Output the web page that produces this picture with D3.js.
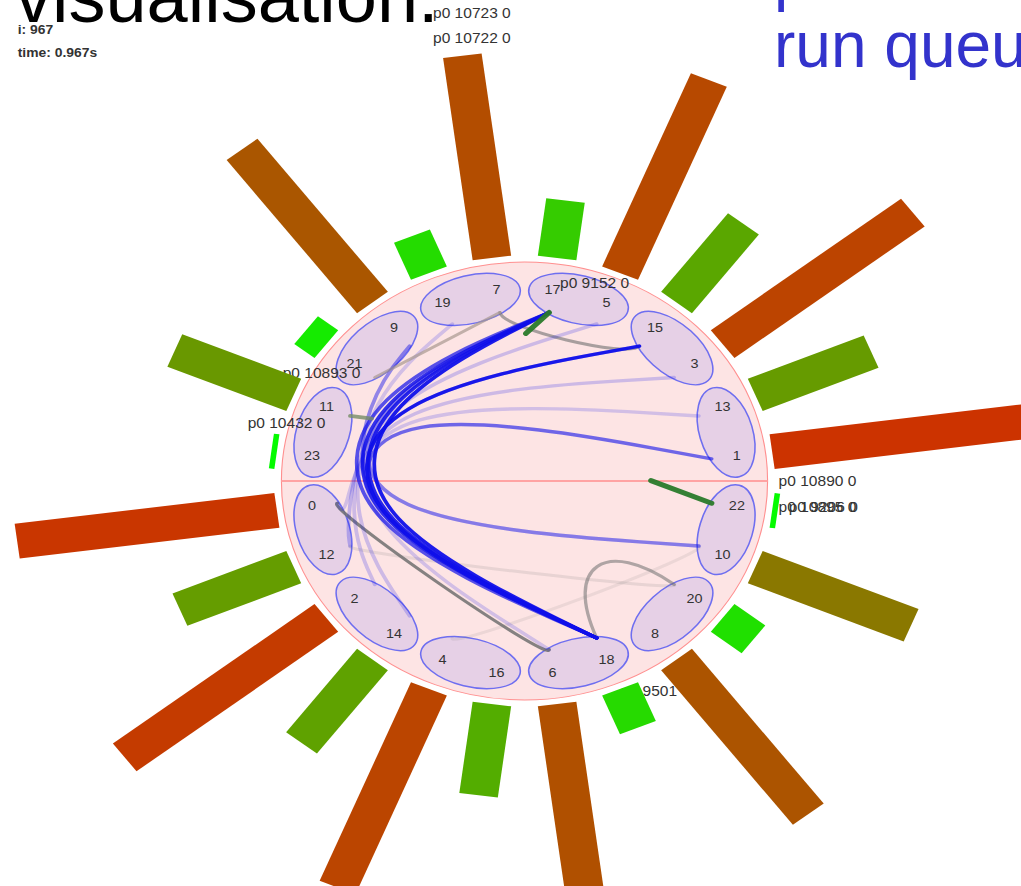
<!DOCTYPE html>
<html>
<head>
<meta charset="utf-8">
<script src="https://cdn.jsdelivr.net/npm/d3@7"></script>
<style>
  html, body { margin: 0; padding: 0; background: #ffffff; overflow: hidden; }
  svg { display: block; }
</style>
</head>
<body>
<svg id="chart" width="1021" height="886"></svg>
<script>
// ---- data ---------------------------------------------------------------
// CPUs in clockwise order, starting just right of 12 o'clock
const cpuOrder = [17, 5, 15, 3, 13, 1, 22, 10, 20, 8, 18, 6, 16, 4, 14, 2, 12, 0, 23, 11, 21, 9, 19, 7];
// hyperthread sibling pairs (one ellipse per physical core)
const cores = [[17, 5], [15, 3], [13, 1], [22, 10], [20, 8], [18, 6], [16, 4], [14, 2], [12, 0], [23, 11], [21, 9], [19, 7]];
// run-queue load per CPU, indexed by CPU id
const runQueueLoad = [236, 240, 229, 216, 215, 209, 200, 204, 195, 193, 152, 116, 111, 113, 105, 99, 92, 58, 42, 40, 35, 23, 5, 5];
// cross-socket migrations: [from cpu, to cpu, recency]
const migrations = [
  [18, 17, 0.95], [18, 17, 0.9], [18, 17, 0.85], [18, 17, 0.7],
  [15, 18, 0.95], [1, 18, 0.6], [9, 18, 0.45],
  [10, 17, 0.3], [10, 15, 0.28], [17, 12, 0.25], [3, 14, 0.2],
  [5, 2, 0.2], [19, 6, 0.18], [13, 0, 0.18]
];
// same-socket wakeups: [from cpu, to cpu, recency]
const wakeups = [[0, 6, 0.85], [7, 15, 0.6], [18, 20, 0.55], [12, 20, 0.15], [4, 10, 0.12]];
// processes in flight: [pid, from cpu, to cpu, progress, age]
const inFlight = [[10893, 21, 7, 1.0, 1.0], [10432, 11, 1, 0.06, 0.6], [9152, 17, 0, 0.11, 0], [10890, 22, 21, 0.18, 0]];
// process tags and where each tag currently sits: [angle deg, radius]
const procTags = ["p0 10723 0", "p0 10722 0", "p0 9152 0", "p0 10893 0", "p0 10432 0", "p0 10890 0", "p0 10895 0", "p0 9206 0", "p0 9501 0"];
const procTagSpots = [[349.9, 470], [349.35, 446], [9.4, 196], [295.3, 241], [282, 255], [91.25, 229], [97.7, 231], [97.4, 240], [158.0, 232]];
const frameIndex = 967;
const frameTime = 0.967;

// ---- layout -------------------------------------------------------------
const cx = 524.5, cy = 481, stretchX = 1.11;
const R = 219, coreR = 188, coreRx = 46, coreRy = 24;
const labelR = 193, linkR = 170, barR0 = 225, barW = 35;
const socketHub = { 1: [301, 165], 0: [256, 166] };   // odd CPUs top, even CPUs bottom

const angle = d3.scalePoint().domain(cpuOrder).range([7.5, 352.5]);
const rad = d => d * Math.PI / 180;
const polar = (a, r) => [r * Math.sin(rad(a)), -r * Math.cos(rad(a))];
const barLen = d3.scaleLinear().domain([0, 240]).range([0, 240]);
const barColor = d3.scaleLinear().domain([0, 150, 205, 240])
  .range(["#00ff00", "#887a00", "#b44c00", "#cc3300"]).clamp(true);
const wakeBend = d3.scaleLinear().domain([30, 45, 90]).range([92, 154, 185]).clamp(true);
const trailColor = d3.scaleLinear().domain([0, 1]).range(["#2a7a2a", "#a89890"]);
const trailWidth = d3.scaleLinear().domain([0, 1]).range([5, 3]);
const trailAlpha = d3.scaleLinear().domain([0, 1]).range([0.95, 0.7]);

const svg = d3.select("#chart");
const font = "'Liberation Sans', Arial, Helvetica, sans-serif";

// slide text
svg.append("text").attr("x", 15).attr("y", 22)
  .attr("font-family", font).attr("font-size", 74).attr("fill", "#000")
  .text("visualisation.");
svg.append("text").attr("x", 774).attr("y", -1)
  .attr("font-family", font).attr("font-size", 64).attr("fill", "#3333cc")
  .text("per CPU");
svg.append("text").attr("x", 774).attr("y", 67)
  .attr("font-family", font).attr("font-size", 64).attr("fill", "#3333cc")
  .text("run queue");

// visualisation frame
const frame = svg.append("g").attr("transform", `scale(${stretchX},1)`);
frame.append("text").attr("x", 16).attr("y", 34)
  .attr("font-family", font).attr("font-size", 12.5).attr("font-weight", "bold").attr("fill", "#333")
  .text(`i: ${frameIndex}`);
frame.append("text").attr("x", 16).attr("y", 57)
  .attr("font-family", font).attr("font-size", 12.5).attr("font-weight", "bold").attr("fill", "#333")
  .text(`time: ${frameTime}s`);

const g = svg.append("g").attr("transform", `translate(${cx},${cy}) scale(${stretchX},1)`);

// machine disc and socket divider
g.append("circle").attr("r", R).attr("fill", "#fde4e4").attr("stroke", "#ff8f8f").attr("stroke-width", 1);
g.append("line").attr("x1", -R).attr("x2", R).attr("y1", 0).attr("y2", 0)
  .attr("stroke", "#ffa3a3").attr("stroke-width", 2);

// cores
const coreAngle = c => (angle(c[0]) + angle(c[1])) / 2;
g.append("g").selectAll("ellipse").data(cores).join("ellipse")
  .attr("transform", c => { const [x, y] = polar(coreAngle(c), coreR); return `translate(${x},${y}) rotate(${coreAngle(c)})`; })
  .attr("rx", coreRx).attr("ry", coreRy)
  .attr("fill", "#e6d0e6").attr("stroke", "#6e6ef0").attr("stroke-width", 1.4);

// same-socket wakeups: cubic curves pulled along each CPU's radius
const gapOf = (a, b) => { const d = Math.abs(angle(a) - angle(b)); return Math.min(d, 360 - d); };
g.append("g").selectAll("path").data(wakeups).join("path")
  .attr("d", ([s, t]) => {
    const rc = wakeBend(gapOf(s, t));
    const p = d3.path();
    const p0 = polar(angle(s), linkR), c1 = polar(angle(s), rc), c2 = polar(angle(t), rc), p3 = polar(angle(t), linkR);
    p.moveTo(...p0); p.bezierCurveTo(...c1, ...c2, ...p3);
    return p.toString();
  })
  .attr("fill", "none").attr("stroke", "#707070").attr("stroke-width", 3)
  .attr("stroke-opacity", d => d[2]).attr("stroke-linecap", "round");

// cross-socket migrations, bundled through the socket hubs
const strandIndex = new Map();
const strands = migrations.map(m => {
  const key = m[0] + "-" + m[1];
  const i = strandIndex.get(key) || 0;
  strandIndex.set(key, i + 1);
  return { m, i };
});
const strandCount = new Map();
migrations.forEach(m => { const k = m[0] + "-" + m[1]; strandCount.set(k, (strandCount.get(k) || 0) + 1); });
const bundle = d3.line().curve(d3.curveBasis);
g.append("g").selectAll("path").data(strands).join("path")
  .attr("d", ({ m, i }) => {
    const [s, t] = m;
    const n = strandCount.get(s + "-" + t);
    const off = (i - (n - 1) / 2) * 6;
    const hs = socketHub[s % 2], ht = socketHub[t % 2];
    return bundle([polar(angle(s), linkR), polar(hs[0], hs[1] + off), polar(ht[0], ht[1] + off), polar(angle(t), linkR)]);
  })
  .attr("fill", "none").attr("stroke", "#1010ea").attr("stroke-width", 3.4)
  .attr("stroke-opacity", d => d.m[2]).attr("stroke-linecap", "round");

// processes moving between CPUs
g.append("g").selectAll("line").data(inFlight).join("line")
  .each(function ([pid, s, t, prog, age]) {
    const [x0, y0] = polar(angle(s), linkR), [x1, y1] = polar(angle(t), linkR);
    d3.select(this).attr("x1", x0).attr("y1", y0)
      .attr("x2", x0 + (x1 - x0) * prog).attr("y2", y0 + (y1 - y0) * prog)
      .attr("stroke", trailColor(age)).attr("stroke-width", trailWidth(age))
      .attr("stroke-opacity", trailAlpha(age)).attr("stroke-linecap", "round");
  });

// CPU numbers
g.append("g").selectAll("text").data(cpuOrder).join("text")
  .attr("x", c => polar(angle(c), labelR)[0]).attr("y", c => polar(angle(c), labelR)[1])
  .attr("text-anchor", "middle").attr("dominant-baseline", "central")
  .attr("font-family", font).attr("font-size", 13).attr("fill", "#333")
  .text(c => c);

// process tags
g.append("g").selectAll("text").data(procTags).join("text")
  .attr("x", (d, i) => polar(...procTagSpots[i])[0]).attr("y", (d, i) => polar(...procTagSpots[i])[1])
  .attr("font-family", font).attr("font-size", 14).attr("fill", "#333")
  .text(d => d);

// run-queue bars
g.append("g").selectAll("rect").data(cpuOrder).join("rect")
  .attr("transform", c => `rotate(${angle(c)})`)
  .attr("x", -barW / 2).attr("width", barW)
  .attr("y", c => -(barR0 + barLen(runQueueLoad[c])))
  .attr("height", c => barLen(runQueueLoad[c]))
  .attr("fill", c => barColor(runQueueLoad[c]));
</script>
</body>
</html>
